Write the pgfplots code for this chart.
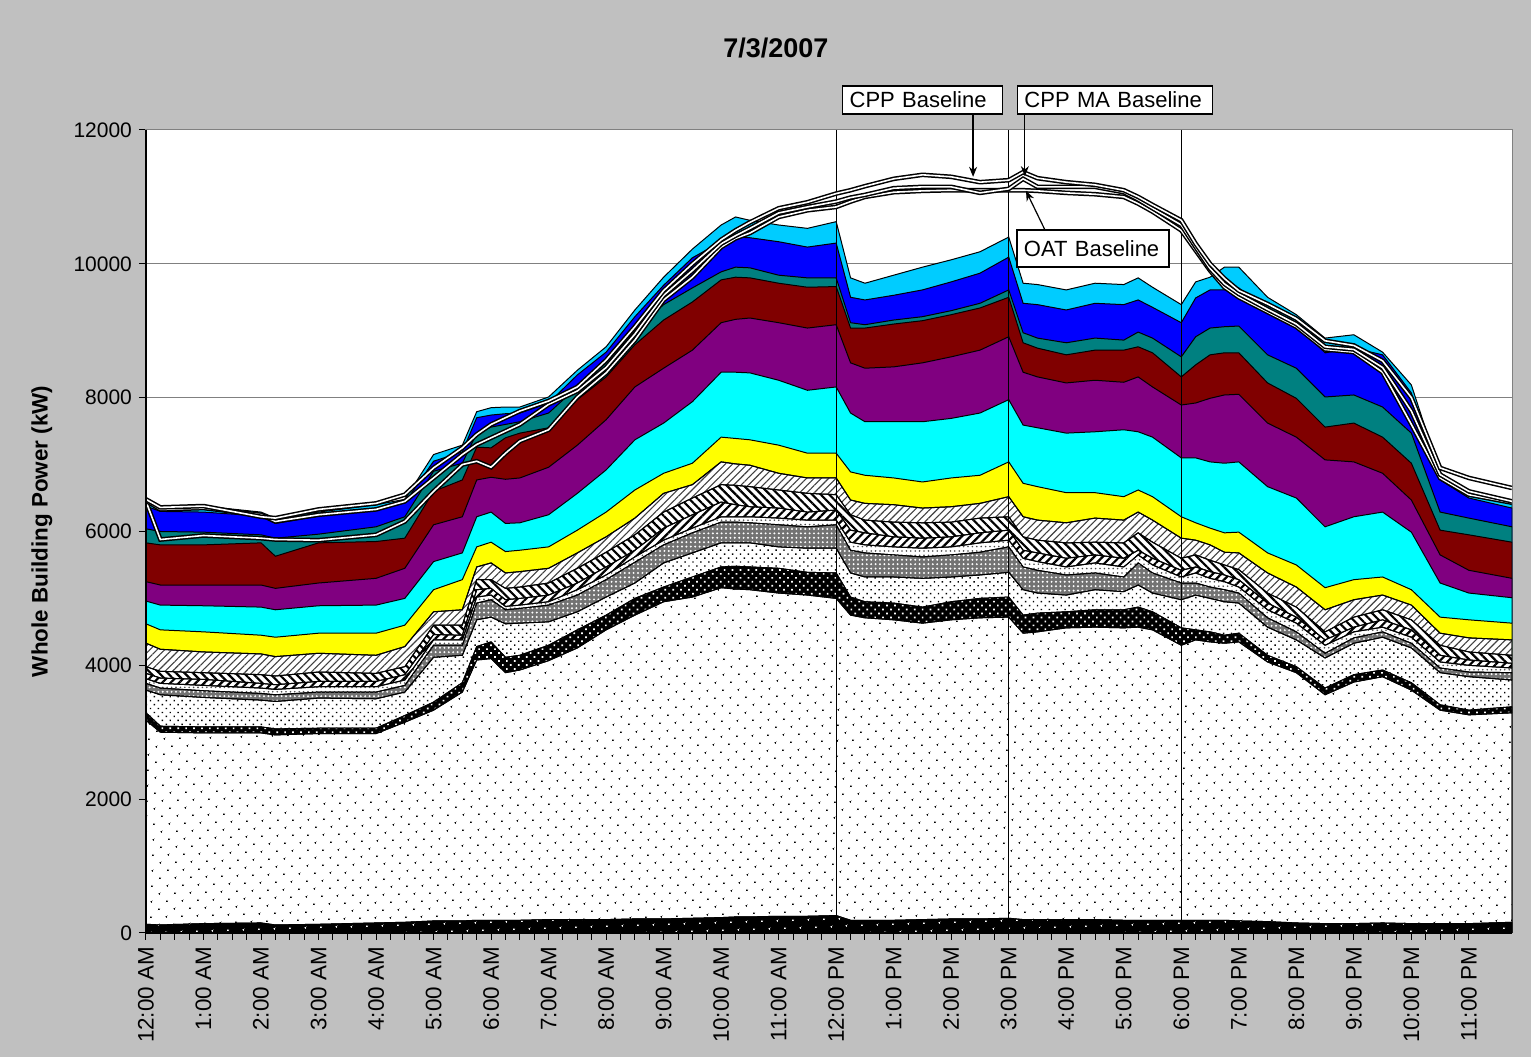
\documentclass[border=0pt]{standalone}
\usepackage{fontspec}
\setmainfont{Liberation Sans}
\usepackage{pgfplots}
\pgfplotsset{compat=1.18}
\usepackage{pgfplotstable}
\usetikzlibrary{patterns.meta,backgrounds,arrows.meta,calc}
\definecolor{bgray}{HTML}{C0C0C0}
\definecolor{lblue}{HTML}{00CCFF}
\definecolor{mblue}{HTML}{0000FF}
\definecolor{tealc}{HTML}{008080}
\definecolor{maroonc}{HTML}{800000}
\definecolor{purpc}{HTML}{800080}
\definecolor{cyanc}{HTML}{00FFFF}
\definecolor{yellc}{HTML}{FFFF00}

\pgfplotstableread{
h b1 b2 b3 b4 b5 b6 b7 b8 b9 b10 b11 b12 b13 b14 b15 b16 cpp ma oat
0 130 3180 3290 3630 3730 3800 3880 3980 4330 4620 4960 5250 5830 6040 6380 6470 6480 6460 6450
0.25 120 3000 3090 3560 3660 3730 3810 3910 4240 4530 4900 5200 5800 6000 6300 6380 6360 6330 5880
1 140 2990 3080 3520 3620 3700 3790 3890 4200 4500 4890 5200 5800 5990 6290 6380 6380 6350 5940
2 150 2990 3080 3480 3580 3660 3730 3860 4170 4450 4870 5200 5830 5950 6230 6290 6220 6250 5900
2.25 120 2960 3050 3460 3560 3640 3710 3840 4130 4420 4830 5150 5630 5900 6120 6200 6200 6150 5880
3 130 2980 3060 3510 3600 3680 3760 3900 4180 4480 4890 5230 5830 5960 6230 6290 6330 6250 5870
4 150 2980 3060 3500 3600 3680 3760 3880 4150 4480 4900 5300 5850 6070 6320 6400 6420 6330 5950
4.5 160 3150 3250 3600 3700 3780 3860 3980 4280 4600 5000 5450 5900 6220 6430 6480 6550 6450 6150
5 180 3330 3450 4120 4300 4380 4460 4600 4800 5130 5550 6100 6600 6900 7050 7150 6950 6800 6600
5.5 180 3600 3740 4150 4300 4380 4450 4600 4830 5280 5680 6220 6770 7020 7190 7290 7250 7150 7000
5.75 190 4080 4280 4680 4930 5020 5130 5280 5470 5770 6220 6770 7260 7470 7700 7790 7450 7300 7050
6 190 4100 4350 4720 4980 5050 5150 5280 5530 5840 6290 6810 7250 7560 7740 7850 7600 7400 6960
6.25 190 3890 4120 4620 4830 4880 4980 5150 5380 5700 6120 6780 7400 7600 7760 7860 7700 7500 7170
6.5 190 3930 4150 4630 4850 4900 5000 5170 5400 5720 6130 6800 7470 7640 7770 7860 7800 7600 7350
7 200 4070 4300 4650 4900 4950 5050 5230 5450 5770 6250 6960 7550 7770 7920 8010 7950 7900 7520
7.5 200 4260 4530 4800 5050 5130 5230 5450 5680 6020 6570 7290 7970 8160 8340 8410 8160 8100 8010
8 200 4530 4750 5020 5280 5350 5470 5690 5920 6290 6920 7670 8310 8520 8680 8760 8560 8450 8370
8.5 210 4750 5000 5230 5540 5620 5720 5950 6200 6620 7370 8160 8790 9010 9210 9310 9060 8950 8860
9 210 4950 5170 5530 5800 5870 6050 6290 6570 6870 7620 8440 9160 9390 9680 9800 9600 9530 9460
9.5 220 5020 5320 5680 5980 6050 6250 6500 6700 7020 7940 8710 9430 9640 10090 10220 10000 9900 9800
10 230 5160 5470 5830 6140 6220 6440 6700 7040 7410 8380 9120 9760 9880 10330 10580 10360 10300 10250
10.25 240 5140 5480 5830 6140 6220 6400 6690 7010 7390 8380 9170 9800 9950 10400 10700 10500 10420 10380
10.5 240 5130 5470 5830 6130 6220 6370 6670 6990 7370 8370 9190 9790 9940 10390 10650 10620 10530 10460
11 250 5080 5450 5770 6100 6200 6350 6620 6870 7290 8260 9120 9710 9830 10330 10580 10830 10760 10700
11.5 250 5050 5390 5750 6070 6170 6290 6570 6800 7170 8110 9040 9650 9790 10250 10530 10920 10850 10800
12 260 5000 5380 5750 6100 6170 6320 6550 6800 7170 8160 9090 9660 9790 10310 10630 11050 10930 10850
12.25 190 4750 5020 5380 5720 5840 6020 6250 6470 6890 7770 8520 9040 9120 9500 9790 11100 10990 10930
12.5 190 4710 4950 5320 5680 5800 5980 6170 6420 6840 7640 8440 9040 9090 9460 9710 11160 11030 11000
13 190 4680 4930 5320 5650 5770 5920 6140 6400 6800 7640 8460 9100 9160 9530 9830 11270 11130 11070
13.5 200 4630 4870 5300 5620 5750 5900 6130 6350 6740 7640 8520 9150 9210 9610 9950 11330 11150 11090
14 210 4680 4950 5320 5650 5770 5920 6140 6370 6800 7690 8610 9240 9300 9730 10060 11300 11150 11100
14.5 210 4710 5000 5350 5690 5830 5980 6200 6420 6840 7770 8710 9340 9410 9860 10180 11220 11060 11100
15 220 4720 5020 5390 5770 5870 6020 6220 6520 7040 7970 8910 9500 9610 10100 10400 11250 11120 11100
15.25 200 4480 4750 5130 5470 5600 5720 5920 6220 6720 7590 8380 8820 8970 9410 9710 11370 11270 11100
15.5 200 4500 4780 5080 5420 5550 5680 5870 6170 6670 7550 8310 8740 8890 9390 9690 11280 11150 11090
16 200 4560 4800 5050 5350 5470 5600 5830 6130 6580 7470 8220 8640 8820 9310 9610 11220 11150 11060
16.5 200 4570 4830 5130 5380 5530 5650 5840 6200 6580 7490 8260 8710 8890 9410 9710 11180 11150 11040
17 190 4560 4830 5100 5320 5470 5600 5830 6170 6520 7520 8230 8710 8860 9390 9690 11100 11070 11000
17.25 190 4570 4870 5200 5530 5650 5720 5980 6290 6620 7490 8310 8760 8980 9460 9790 11000 10960 10900
17.5 190 4530 4800 5080 5380 5500 5600 5840 6170 6520 7410 8160 8670 8890 9350 9650 10880 10830 10780
18 190 4300 4560 4980 5230 5320 5420 5600 5900 6220 7100 7890 8310 8610 9120 9390 10650 10580 10500
18.25 190 4380 4530 5050 5230 5380 5470 5650 5870 6130 7100 7920 8490 8910 9490 9730 10300 10250 10200
18.5 190 4350 4500 5000 5170 5300 5400 5570 5800 6050 7040 7990 8640 9040 9610 9800 10000 9930 9900
18.75 190 4330 4450 4950 5130 5250 5350 5500 5690 5980 7020 8040 8670 9060 9610 9950 9780 9700 9650
19 180 4350 4480 4930 5080 5170 5280 5430 5680 5990 7040 8050 8670 9070 9640 9950 9600 9550 9500
19.5 170 4050 4150 4570 4710 4830 4930 5080 5380 5680 6670 7620 8220 8640 9280 9500 9400 9320 9280
20 150 3890 3980 4380 4500 4630 4720 4870 5170 5500 6500 7410 7990 8440 9090 9240 9180 9100 9060
20.5 140 3560 3660 4110 4180 4300 4380 4500 4830 5160 6070 7070 7560 8010 8670 8890 8850 8760 8720
21 140 3750 3860 4330 4410 4500 4570 4720 4980 5280 6220 7040 7620 8040 8740 8940 8780 8720 8680
21.5 150 3830 3930 4420 4500 4570 4680 4830 5050 5320 6290 6870 7410 7860 8640 8680 8550 8450 8380
22 140 3630 3740 4260 4330 4420 4530 4680 4900 5130 5990 6470 7020 7470 8070 8190 8000 7800 7600
22.5 140 3330 3410 3890 3960 4050 4150 4300 4480 4720 5230 5650 6020 6290 6770 6870 6950 6850 6800
23 140 3260 3330 3830 3900 4000 4080 4200 4410 4680 5080 5420 5950 6200 6500 6560 6800 6600 6550
23.75 160 3290 3380 3780 3890 3960 4030 4150 4380 4630 5010 5300 5840 6070 6350 6420 6650 6450 6430
}\data

\begin{document}
\begin{tikzpicture}
\begin{axis}[
  scale only axis, width=683pt, height=401.5pt,
  xmin=0, xmax=23.75, ymin=0, ymax=12000,
  clip mode=individual,
  axis background/.style={fill=white},
  axis line style={draw=gray, line width=0.5pt},
  xtick={0,1,...,23},
  xticklabels={12:00 AM,1:00 AM,2:00 AM,3:00 AM,4:00 AM,5:00 AM,6:00 AM,7:00 AM,8:00 AM,9:00 AM,10:00 AM,11:00 AM,12:00 PM,1:00 PM,2:00 PM,3:00 PM,4:00 PM,5:00 PM,6:00 PM,7:00 PM,8:00 PM,9:00 PM,10:00 PM,11:00 PM},
  minor x tick num=3,
  ytick={0,2000,...,12000},
  scaled y ticks=false,
  tick align=outside, tick pos=left,
  major tick length=3.5pt, minor tick length=3.5pt,
  every tick/.style={black, line width=0.5pt},
  ymajorgrids, major grid style={draw=gray, line width=0.5pt},
  /pgf/number format/assume math mode=true,
  /pgf/number format/1000 sep={},
  yticklabel style={font=\fontsize{10.5}{12}\selectfont},
  xticklabel style={rotate=90, anchor=east, font=\fontsize{11.2}{13}\selectfont},
  no markers,
  every axis plot/.append style={line width=0.5pt, draw=black},
]
\addplot[fill=lblue] table[x=h,y=b16]{\data} \closedcycle;
\addplot[fill=mblue] table[x=h,y=b15]{\data} \closedcycle;
\addplot[fill=tealc] table[x=h,y=b14]{\data} \closedcycle;
\addplot[fill=maroonc] table[x=h,y=b13]{\data} \closedcycle;
\addplot[fill=purpc] table[x=h,y=b12]{\data} \closedcycle;
\addplot[fill=cyanc] table[x=h,y=b11]{\data} \closedcycle;
\addplot[fill=yellc] table[x=h,y=b10]{\data} \closedcycle;
\addplot[fill=white, postaction={pattern={Lines[angle=45,distance=2.6pt,line width=0.55pt]}, pattern color=black!75}] table[x=h,y=b9]{\data} \closedcycle;
\addplot[fill=white, postaction={pattern={Lines[angle=-45,distance=3pt,line width=1.1pt]}, pattern color=black}] table[x=h,y=b8]{\data} \closedcycle;
\addplot[fill=white, postaction={pattern={Lines[angle=45,distance=3pt,line width=1.1pt]}, pattern color=black}] table[x=h,y=b7]{\data} \closedcycle;
\addplot[fill=white, postaction={pattern={Dots[distance=2.2pt,radius=0.45pt]}, pattern color=black!70}] table[x=h,y=b6]{\data} \closedcycle;
\addplot[fill=black!55, postaction={pattern={Dots[distance=2.2pt,radius=0.55pt]}, pattern color=white}] table[x=h,y=b5]{\data} \closedcycle;
\addplot[fill=white, postaction={pattern={Dots[distance=2.8pt,angle=45,radius=0.5pt]}, pattern color=black}] table[x=h,y=b4]{\data} \closedcycle;
\addplot[fill=black, postaction={pattern={Dots[distance=2.8pt,angle=45,radius=0.6pt]}, pattern color=white}] table[x=h,y=b3]{\data} \closedcycle;
\addplot[fill=white, postaction={pattern={Dots[distance=5.4pt,angle=45,radius=0.55pt]}, pattern color=black}] table[x=h,y=b2]{\data} \closedcycle;
\addplot[fill=black, postaction={pattern={Dots[distance=5.4pt,angle=45,radius=0.55pt]}, pattern color=white}] table[x=h,y=b1]{\data} \closedcycle;
% vertical event lines
\addplot[line width=0.6pt] coordinates {(12,0) (12,12000)};
\addplot[line width=0.6pt] coordinates {(15,0) (15,12000)};
\addplot[line width=0.6pt] coordinates {(18,0) (18,12000)};
% baselines
\addplot[line width=0.75pt, double=white, double distance=0.8pt] table[x=h,y=oat]{\data};
\addplot[line width=0.75pt, double=white, double distance=0.8pt] table[x=h,y=ma]{\data};
\addplot[line width=0.75pt, double=white, double distance=0.8pt] table[x=h,y=cpp]{\data};
% frame
\draw[black, line width=0.6pt] (rel axis cs:0,1) -- (rel axis cs:0,0) -- (rel axis cs:1,0);
\coordinate (SW) at (rel axis cs:0,0);
\coordinate (NE) at (rel axis cs:1,1);
% annotations
\draw[-{Stealth[length=5pt,width=4pt]}, line width=0.6pt] (axis cs:14.38,12239) -- (axis cs:14.38,11300);
\draw[-{Stealth[length=5pt,width=4pt]}, line width=0.6pt] (axis cs:15.28,12239) -- (axis cs:15.28,11310);
\draw[-{Stealth[length=5pt,width=4pt]}, line width=0.6pt] (axis cs:15.63,10506) -- (axis cs:15.30,11090);
\node[draw=black, fill=white, line width=0.7pt, anchor=west, text width=73pt, align=left, inner xsep=3.5pt, inner ysep=0pt, minimum height=14pt, font=\fontsize{11}{13}\selectfont] at (axis cs:12.10,12448) {CPP Baseline};
\node[draw=black, fill=white, line width=0.7pt, anchor=west, text width=90.5pt, align=left, inner xsep=3.5pt, inner ysep=0pt, minimum height=14pt, font=\fontsize{11}{13}\selectfont] at (axis cs:15.14,12448) {CPP MA Baseline};
\node[draw=black, fill=white, line width=0.7pt, anchor=west, text width=69pt, align=left, inner xsep=3.5pt, inner ysep=0pt, minimum height=18.5pt, font=\fontsize{11}{13}\selectfont] at (axis cs:15.13,10229) {OAT Baseline};
\end{axis}
\node[font=\bfseries\fontsize{13.5}{16}\selectfont] at ($(SW)+(314.9pt,442.5pt)$) {7/3/2007};
\node[rotate=90, font=\bfseries\fontsize{11.2}{13}\selectfont] at ($(SW)+(-52pt,200.75pt)$) {Whole Building Power (kW)};
\begin{scope}[on background layer]
\fill[bgray] ($(SW)+(-73pt,-62pt)$) rectangle ($(NE)+(9.5pt,65pt)$);
\end{scope}
\end{tikzpicture}
\end{document}
